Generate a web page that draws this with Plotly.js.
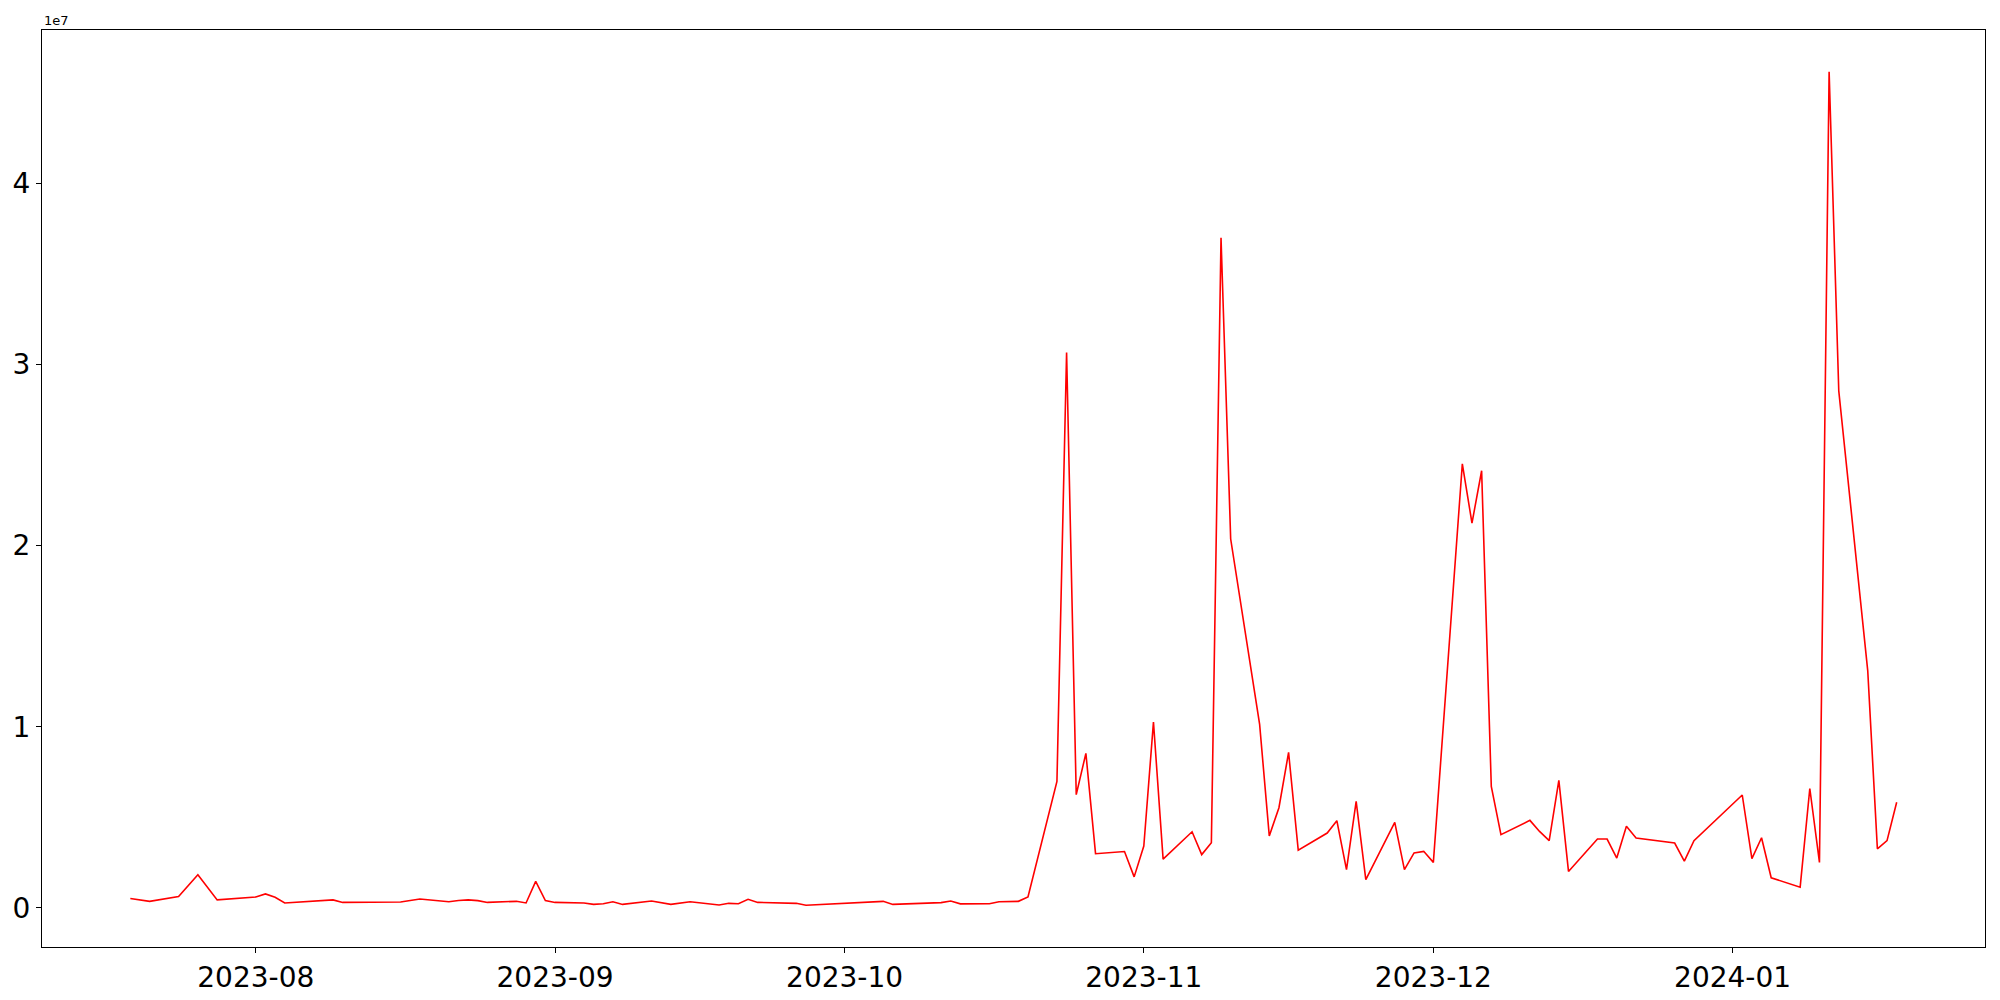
<!DOCTYPE html>
<html>
<head>
<meta charset="utf-8">
<script src="https://cdn.plot.ly/plotly-3.0.1.min.js"></script>
<style>html,body{margin:0;padding:0;background:#fff;}#chart{width:2000px;height:1000px;}</style>
</head>
<body>
<div id="chart"></div>
<script>
const dates = [
'2023-07-19','2023-07-21','2023-07-24','2023-07-26','2023-07-28',
'2023-08-01','2023-08-02','2023-08-03','2023-08-04','2023-08-09','2023-08-10',
'2023-08-16','2023-08-18','2023-08-21','2023-08-22','2023-08-23','2023-08-24','2023-08-25',
'2023-08-28','2023-08-29','2023-08-30','2023-08-31','2023-09-01',
'2023-09-04','2023-09-05','2023-09-06','2023-09-07','2023-09-08',
'2023-09-11','2023-09-13','2023-09-15','2023-09-18','2023-09-19','2023-09-20','2023-09-21','2023-09-22',
'2023-09-26','2023-09-27','2023-10-05','2023-10-06',
'2023-10-11','2023-10-12','2023-10-13','2023-10-16','2023-10-17','2023-10-19','2023-10-20',
'2023-10-23','2023-10-24','2023-10-25','2023-10-26','2023-10-27',
'2023-10-30','2023-10-31','2023-11-01','2023-11-02','2023-11-03',
'2023-11-06','2023-11-07','2023-11-08','2023-11-09','2023-11-10',
'2023-11-13','2023-11-14','2023-11-15','2023-11-16','2023-11-17',
'2023-11-20','2023-11-21','2023-11-22','2023-11-23','2023-11-24',
'2023-11-27','2023-11-28','2023-11-29','2023-11-30','2023-12-01',
'2023-12-04','2023-12-05','2023-12-06','2023-12-07','2023-12-08',
'2023-12-11','2023-12-12','2023-12-13','2023-12-14','2023-12-15',
'2023-12-18','2023-12-19','2023-12-20','2023-12-21','2023-12-22',
'2023-12-26','2023-12-27','2023-12-28',
'2024-01-02','2024-01-03','2024-01-04','2024-01-05',
'2024-01-08','2024-01-09','2024-01-10','2024-01-11','2024-01-12',
'2024-01-15','2024-01-16','2024-01-17','2024-01-18'
];
const values = [
520000,360000,620000,1830000,440000,
600000,770000,580000,270000,440000,300000,
320000,490000,340000,410000,440000,400000,300000,
360000,270000,1460000,400000,300000,
270000,190000,230000,340000,190000,
380000,190000,340000,160000,250000,230000,470000,300000,
250000,140000,360000,190000,
290000,380000,220000,230000,340000,360000,600000,
6980000,30660000,6250000,8530000,2990000,
3110000,1710000,3410000,10260000,2690000,
4200000,2940000,3600000,36990000,20360000,
10130000,3970000,5530000,8580000,3190000,
4130000,4810000,2110000,5880000,1560000,
4720000,2110000,3030000,3120000,2510000,
24510000,21240000,24130000,6710000,4040000,
4830000,4220000,3710000,7040000,2010000,
3800000,3800000,2750000,4500000,3860000,
3580000,2580000,3710000,
6230000,2720000,3870000,1660000,
1140000,6590000,2510000,46160000,28540000,
13100000,3260000,3710000,5830000
];
const yTickVals = [0, 10000000, 20000000, 30000000, 40000000];
const yTickText = ['0', '1', '2', '3', '4'];
const xTickVals = ['2023-08-01','2023-09-01','2023-10-01','2023-11-01','2023-12-01','2024-01-01'];
const xTickText = ['2023-08','2023-09','2023-10','2023-11','2023-12','2024-01'];

const font = 'DejaVu Sans, sans-serif';
const trace = {
  x: dates, y: values, type: 'scatter', mode: 'lines',
  line: {color: '#ff0000', width: 1.6}, hoverinfo: 'skip'
};
const layout = {
  width: 2000, height: 1000,
  margin: {l: 42, r: 15, t: 30, b: 53, pad: 0},
  paper_bgcolor: '#fff', plot_bgcolor: '#fff',
  showlegend: false,
  font: {family: font, color: '#000'},
  xaxis: {
    type: 'date',
    range: ['2023-07-09 20:24', '2024-01-27 03:36'],
    tickvals: xTickVals, ticktext: xTickText,
    ticks: 'outside', ticklen: 5, tickwidth: 1, tickcolor: '#000',
    tickfont: {size: 28, family: font, color: '#000'},
    showgrid: false, zeroline: false,
    showline: true, mirror: true, linecolor: '#000', linewidth: 1
  },
  yaxis: {
    range: [-2161000, 48461000],
    tickvals: yTickVals, ticktext: yTickText,
    ticks: 'outside', ticklen: 5, tickwidth: 1, tickcolor: '#000',
    tickfont: {size: 28, family: font, color: '#000'},
    showgrid: false, zeroline: false,
    showline: true, mirror: true, linecolor: '#000', linewidth: 1
  },
  annotations: [{
    text: '1e7', xref: 'paper', yref: 'paper', x: 0, y: 1,
    xanchor: 'left', yanchor: 'bottom', yshift: 0, showarrow: false,
    font: {size: 13, family: font, color: '#000'}
  }]
};
Plotly.newPlot('chart', [trace], layout, {displayModeBar: false, staticPlot: true});
</script>
</body>
</html>
